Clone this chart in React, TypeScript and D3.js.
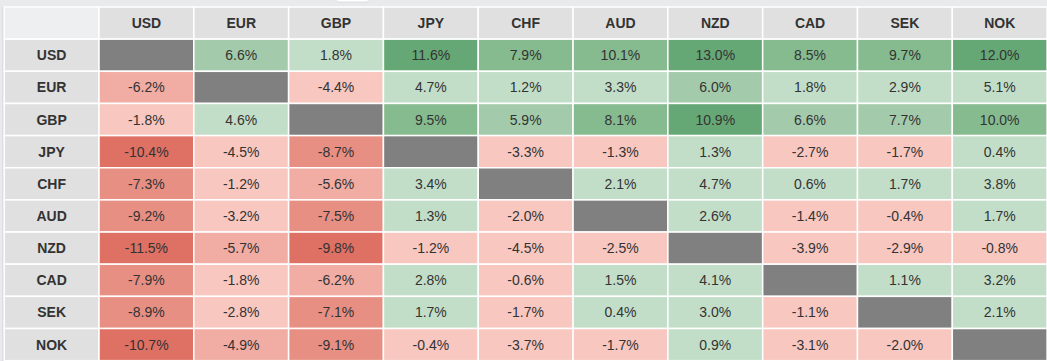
import { useMemo } from "react";
import * as d3 from "d3";

// base currencies (rows) and quote currencies (columns)
const rowCurrencies = ["USD", "EUR", "GBP", "JPY", "CHF", "AUD", "NZD", "CAD", "SEK", "NOK"];
const colCurrencies = ["USD", "EUR", "GBP", "JPY", "CHF", "AUD", "NZD", "CAD", "SEK", "NOK"];

// performance of row vs column, % (null on the diagonal)
const usdRow = [null, 6.6, 1.8, 11.6, 7.9, 10.1, 13.0, 8.5, 9.7, 12.0];
const eurRow = [-6.2, null, -4.4, 4.7, 1.2, 3.3, 6.0, 1.8, 2.9, 5.1];
const gbpRow = [-1.8, 4.6, null, 9.5, 5.9, 8.1, 10.9, 6.6, 7.7, 10.0];
const jpyRow = [-10.4, -4.5, -8.7, null, -3.3, -1.3, 1.3, -2.7, -1.7, 0.4];
const chfRow = [-7.3, -1.2, -5.6, 3.4, null, 2.1, 4.7, 0.6, 1.7, 3.8];
const audRow = [-9.2, -3.2, -7.5, 1.3, -2.0, null, 2.6, -1.4, -0.4, 1.7];
const nzdRow = [-11.5, -5.7, -9.8, -1.2, -4.5, -2.5, null, -3.9, -2.9, -0.8];
const cadRow = [-7.9, -1.8, -6.2, 2.8, -0.6, 1.5, 4.1, null, 1.1, 3.2];
const sekRow = [-8.9, -2.8, -7.1, 1.7, -1.7, 0.4, 3.0, -1.1, null, 2.1];
const nokRow = [-10.7, -4.9, -9.1, -0.4, -3.7, -1.7, 0.9, -3.1, -2.0, null];

const matrix = [usdRow, eurRow, gbpRow, jpyRow, chfRow, audRow, nzdRow, cadRow, sekRow, nokRow];

const WIDTH = 1047;
const HEIGHT = 361;

// bucketed red / green scale
const color = d3
  .scaleThreshold<number, string>()
  .domain([-9.5, -6.7, -4.7, 0, 5.5, 7.8, 10.5])
  .range(["#df7064", "#e88f83", "#f1aca3", "#f8c7c0", "#c3dec8", "#a3cbab", "#85bb8f", "#66a875"]);

const FONT = "'Liberation Sans', Arial, Helvetica, sans-serif";

export default function App() {
  const x = useMemo(
    () => d3.scaleBand<string>().domain(["", ...colCurrencies]).range([4.2, 1047.1]),
    []
  );
  const y = useMemo(
    () => d3.scaleBand<string>().domain(["", ...rowCurrencies]).range([7, 7 + 11 * 32.15]),
    []
  );

  const bw = x.bandwidth();
  const bh = y.bandwidth();

  return (
    <div style={{ position: "absolute", left: 0, top: 0 }}>
      <svg width={WIDTH} height={HEIGHT} style={{ display: "block" }}>
        <rect x={0} y={0} width={WIDTH} height={HEIGHT} fill="#e9eaec" />
        <rect x={2} y={7} width={2} height={HEIGHT} fill="#dddee1" />
        {/* tab edge peeking in at the top */}
        <rect x={335} y={-6} width={35} height={8} rx={4} fill="#ffffff" stroke="#d8d9dc" strokeWidth={0.8} />

        {/* corner */}
        <rect x={x("")!} y={y("")!} width={bw} height={bh} fill="#eeeff1" stroke="#ffffff" strokeWidth={1.5} />

        {/* column headers */}
        {colCurrencies.map((c) => (
          <g key={"h" + c}>
            <rect x={x(c)!} y={y("")!} width={bw} height={bh} fill="#e0e0e0" stroke="#ffffff" strokeWidth={1.5} />
            <text
              x={x(c)! + bw / 2}
              y={y("")! + bh / 2}
              textAnchor="middle"
              dominantBaseline="central"
              fontFamily={FONT}
              fontSize={14}
              fontWeight={700}
              fill="#333333"
            >
              {c}
            </text>
          </g>
        ))}

        {/* rows */}
        {rowCurrencies.map((r, i) => (
          <g key={"r" + r}>
            <rect x={x("")!} y={y(r)!} width={bw} height={bh} fill="#e0e0e0" stroke="#ffffff" strokeWidth={1.5} />
            <text
              x={x("")! + bw / 2}
              y={y(r)! + bh / 2}
              textAnchor="middle"
              dominantBaseline="central"
              fontFamily={FONT}
              fontSize={14}
              fontWeight={700}
              fill="#333333"
            >
              {r}
            </text>
            {colCurrencies.map((c, j) => {
              const v = matrix[i][j];
              return (
                <g key={r + c}>
                  <rect
                    x={x(c)!}
                    y={y(r)!}
                    width={bw}
                    height={bh}
                    fill={v == null ? "#808080" : color(v)}
                    stroke="#ffffff"
                    strokeWidth={1.5}
                  />
                  {v != null && (
                    <text
                      x={x(c)! + bw / 2}
                      y={y(r)! + bh / 2}
                      textAnchor="middle"
                      dominantBaseline="central"
                      fontFamily={FONT}
                      fontSize={14}
                      fill="#333333"
                    >
                      {v.toFixed(1) + "%"}
                    </text>
                  )}
                </g>
              );
            })}
          </g>
        ))}
      </svg>
    </div>
  );
}
